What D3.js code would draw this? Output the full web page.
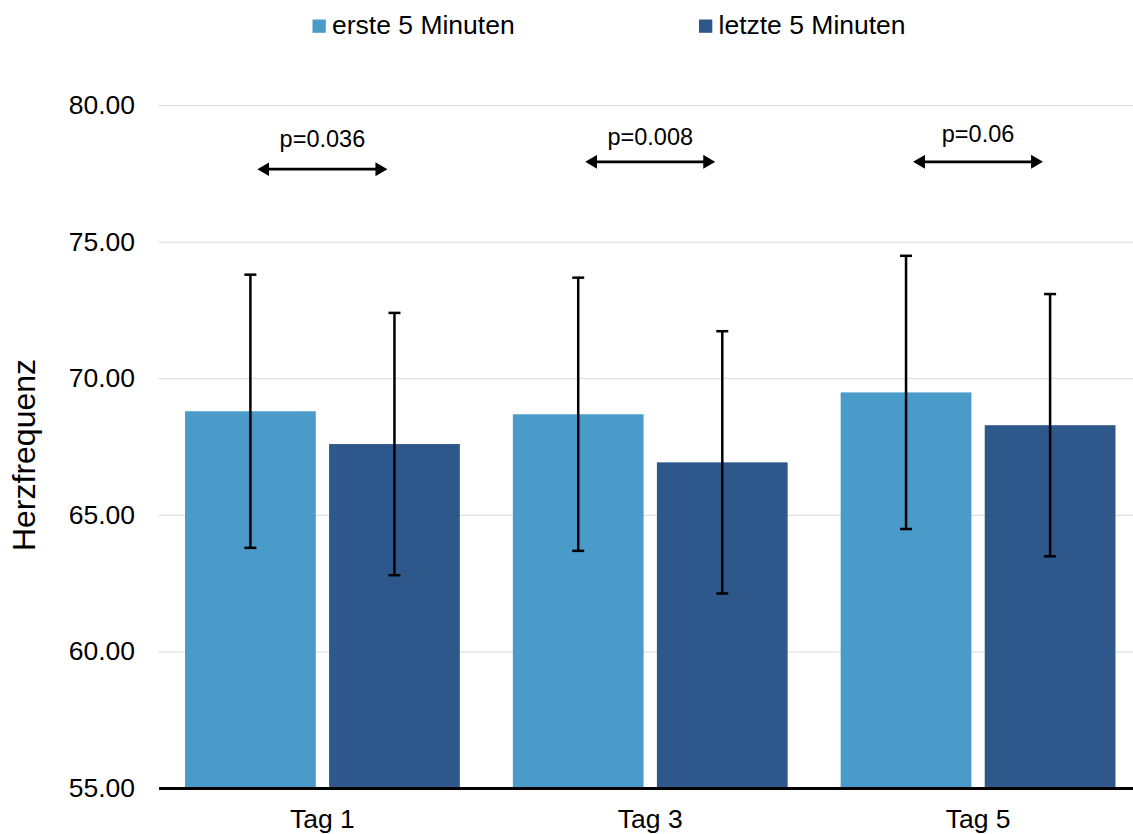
<!DOCTYPE html>
<html>
<head>
<meta charset="utf-8">
<script src="https://cdn.jsdelivr.net/npm/d3@7"></script>
<style>
  body { margin: 0; background: #fff; }
  text { font-family: "Liberation Sans", Arial, sans-serif; fill: #000; }
</style>
</head>
<body>
<div id="chart"></div>
<script>
// chart values
const categories = ["Tag 1", "Tag 3", "Tag 5"];
const seriesNames = ["erste 5 Minuten", "letzte 5 Minuten"];
const erstMean = [68.79, 68.68, 69.48];
const erstSD = [5.0, 5.0, 5.0];
const letztMean = [67.59, 66.92, 68.28];
const letztSD = [4.8, 4.8, 4.8];
const yTicks = [55, 60, 65, 70, 75, 80];
const pLabels = ["p=0.036", "p=0.008", "p=0.06"];
const arrowLevel = [77.65, 77.92, 77.92];
const labelLevel = [78.48, 78.54, 78.63];

const colors = ["#4a9bca", "#2e588c"];

const W = 1133, H = 834;
const margin = { top: 105, right: -9, bottom: 46, left: 158.5 };
const width = W - margin.left - margin.right;
const height = H - margin.top - margin.bottom;

const rows = categories.map((c, i) => ({
    cat: c,
    vals: [
        { s: 0, mean: erstMean[i], sd: erstSD[i] },
        { s: 1, mean: letztMean[i], sd: letztSD[i] }
    ]
}));

const svg = d3.select("#chart").append("svg")
    .attr("width", W)
    .attr("height", H);

const g = svg.append("g")
    .attr("transform", `translate(${margin.left},${margin.top})`);

const x0 = d3.scaleBand().domain(categories).range([0, width])
    .paddingInner(0.1617).paddingOuter(0.0809);
const x1 = d3.scaleBand().domain([0, 1]).range([0, x0.bandwidth()])
    .paddingInner(0.0924);
const y = d3.scaleLinear().domain([55, 80]).range([height, 0]);

// gridlines
g.append("g")
    .call(d3.axisLeft(y).tickValues(yTicks.filter(t => t > 55)).tickSize(-width).tickFormat(""))
    .call(a => a.select(".domain").remove())
    .selectAll("line").attr("stroke", "#d9d9d9").attr("stroke-width", 1);

// y tick labels
g.append("g")
    .call(d3.axisLeft(y).tickValues(yTicks).tickSize(0).tickPadding(23.5).tickFormat(d3.format(".2f")))
    .call(a => a.select(".domain").remove())
    .selectAll("text").style("font-size", "26.5px").attr("font-family", null);

// bars
const groups = g.selectAll(".grp").data(rows).enter().append("g")
    .attr("transform", d => `translate(${x0(d.cat)},0)`);

groups.selectAll("rect").data(d => d.vals).enter().append("rect")
    .attr("x", d => x1(d.s))
    .attr("width", x1.bandwidth())
    .attr("y", d => y(d.mean))
    .attr("height", d => height - y(d.mean))
    .attr("fill", d => colors[d.s]);

// error bars
const eb = groups.selectAll(".err").data(d => d.vals).enter().append("g")
    .attr("stroke", "#000").attr("stroke-width", 2.5);
eb.append("line")
    .attr("x1", d => x1(d.s) + x1.bandwidth() / 2)
    .attr("x2", d => x1(d.s) + x1.bandwidth() / 2)
    .attr("y1", d => y(d.mean + d.sd))
    .attr("y2", d => y(d.mean - d.sd));
[1, -1].forEach(sign => {
    eb.append("line")
        .attr("x1", d => x1(d.s) + x1.bandwidth() / 2 - 6)
        .attr("x2", d => x1(d.s) + x1.bandwidth() / 2 + 6)
        .attr("y1", d => y(d.mean + sign * d.sd))
        .attr("y2", d => y(d.mean + sign * d.sd));
});

// x axis
g.append("g")
    .attr("transform", `translate(0,${height})`)
    .call(d3.axisBottom(x0).tickSize(0).tickSizeOuter(0))
    .call(a => a.select(".domain").attr("stroke", "#000").attr("stroke-width", 3))
    .selectAll("text")
    .attr("y", 40).attr("dy", null)
    .style("font-size", "26.5px").attr("font-family", null);

// significance arrows
svg.append("defs").append("marker")
    .attr("id", "head")
    .attr("markerUnits", "userSpaceOnUse")
    .attr("viewBox", "0 0 12 14")
    .attr("refX", 6).attr("refY", 7)
    .attr("markerWidth", 12).attr("markerHeight", 14)
    .attr("orient", "auto-start-reverse")
    .append("path").attr("d", "M0,0L12,7L0,14Z").attr("fill", "#000");

categories.forEach((c, i) => {
    const cx = x0(c) + x0.bandwidth() / 2;
    g.append("line")
        .attr("x1", cx - 59).attr("x2", cx + 59)
        .attr("y1", y(arrowLevel[i])).attr("y2", y(arrowLevel[i]))
        .attr("stroke", "#000").attr("stroke-width", 2.8)
        .attr("marker-start", "url(#head)").attr("marker-end", "url(#head)");
    g.append("text")
        .attr("x", cx).attr("y", y(labelLevel[i]))
        .attr("text-anchor", "middle")
        .style("font-size", "23.5px")
        .text(pLabels[i]);
});

// y axis title
svg.append("text")
    .attr("transform", "translate(35,455) rotate(-90)")
    .attr("text-anchor", "middle")
    .style("font-size", "32px")
    .text("Herzfrequenz");

// legend
const legend = svg.append("g").attr("transform", "translate(312.5,0)");
seriesNames.forEach((name, i) => {
    const item = legend.append("g").attr("transform", `translate(${i * 386.5},0)`);
    item.append("rect").attr("x", 0).attr("y", 19.5).attr("width", 13.3).attr("height", 13.3)
        .attr("fill", colors[i]);
    item.append("text").attr("x", 19.5).attr("y", 34)
        .style("font-size", "26.5px").text(name);
});
</script>
</body>
</html>
